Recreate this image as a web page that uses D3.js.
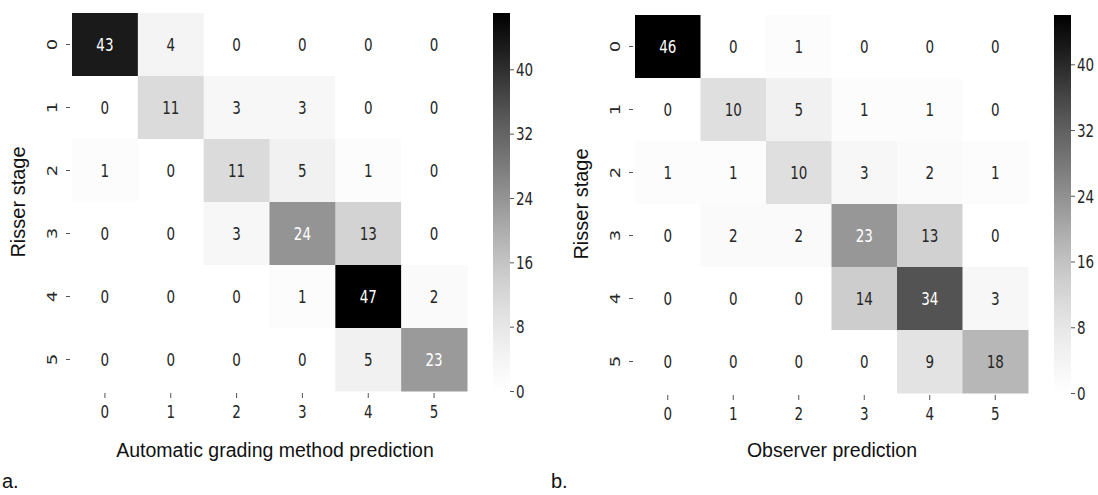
<!DOCTYPE html>
<html>
<head>
<meta charset="utf-8">
<script src="https://cdn.jsdelivr.net/npm/d3@7"></script>
<style>
  body { margin: 0; background: #fff; }
  svg { display: block; }
  .num { font-family: "DejaVu Sans", sans-serif; }
  .lbl { font-family: "Liberation Sans", Arial, sans-serif; fill: #111; }
</style>
</head>
<body>
<svg id="chart" width="1098" height="495"></svg>
<script>
// confusion matrices: rows = Risser stage, columns = prediction
const stages = [0, 1, 2, 3, 4, 5];
const autoMatrix = [
  [43, 4, 0, 0, 0, 0],
  [0, 11, 3, 3, 0, 0],
  [1, 0, 11, 5, 1, 0],
  [0, 0, 3, 24, 13, 0],
  [0, 0, 0, 1, 47, 2],
  [0, 0, 0, 0, 5, 23]
];
const observerMatrix = [
  [46, 0, 1, 0, 0, 0],
  [0, 10, 5, 1, 1, 0],
  [1, 1, 10, 3, 2, 1],
  [0, 2, 2, 23, 13, 0],
  [0, 0, 0, 14, 34, 3],
  [0, 0, 0, 0, 9, 18]
];
const colorbarTicks = [0, 8, 16, 24, 32, 40];
const panelTags = ['a.', 'b.'];
const xTitles = ['Automatic grading method prediction', 'Observer prediction'];
const yTitle = 'Risser stage';

const svg = d3.select('#chart');
const SQ = 0.75; // the original figure was squeezed horizontally

const panels = [
  { m: autoMatrix, x0: 72, x1: 467, y0: 13, y1: 391, cb: 493, tagX: 2, titleX: 275 },
  { m: observerMatrix, x0: 635, x1: 1028, y0: 15, y1: 393, cb: 1054, tagX: 551, titleX: 832 }
];

function luminance(c) {
  const rgb = d3.rgb(c);
  const f = v => { v /= 255; return v <= 0.03928 ? v / 12.92 : Math.pow((v + 0.055) / 1.055, 2.4); };
  return 0.2126 * f(rgb.r) + 0.7152 * f(rgb.g) + 0.0722 * f(rgb.b);
}

panels.forEach((p, i) => {
  const vmax = d3.max(p.m.flat());
  const color = d3.scaleSequential(d3.interpolateGreys).domain([0, vmax]);
  const x = d3.scaleBand().domain(stages).range([p.x0, p.x1]);
  const y = d3.scaleBand().domain(stages).range([p.y0, p.y1]);

  const cells = p.m.flatMap((row, r) => row.map((v, c) => ({ r, c, v })));
  const g = svg.append('g');

  g.selectAll('rect.cell')
    .data(cells)
    .join('rect')
    .attr('class', 'cell')
    .attr('x', d => x(d.c))
    .attr('y', d => y(d.r))
    .attr('width', x.bandwidth() + 0.5)
    .attr('height', y.bandwidth() + 0.5)
    .attr('fill', d => color(d.v));

  g.selectAll('text.ann')
    .data(cells)
    .join('text')
    .attr('class', 'ann num')
    .attr('transform', d => `translate(${x(d.c) + x.bandwidth() / 2},${y(d.r) + y.bandwidth() / 2}) scale(${SQ},1)`)
    .attr('text-anchor', 'middle')
    .attr('dominant-baseline', 'central')
    .attr('font-size', 18)
    .attr('fill', d => luminance(color(d.v)) > 0.408 ? '#262626' : '#ffffff')
    .text(d => d.v);

  // x axis
  const xa = g.append('g')
    .attr('transform', `translate(0,${p.y1 + 2})`)
    .call(d3.axisBottom(x).tickSize(5).tickSizeOuter(0));
  xa.select('.domain').remove();
  xa.selectAll('line').attr('stroke', '#555');
  xa.selectAll('text')
    .attr('class', 'num')
    .attr('y', null).attr('dy', null)
    .attr('transform', `translate(0,19) scale(${SQ},1)`)
    .attr('dominant-baseline', 'central')
    .attr('font-size', 18)
    .attr('fill', '#262626');

  // y axis
  const ya = g.append('g')
    .attr('transform', `translate(${p.x0 - 2},0)`)
    .call(d3.axisLeft(y).tickSize(4).tickSizeOuter(0));
  ya.select('.domain').remove();
  ya.selectAll('line').attr('stroke', '#555');
  ya.selectAll('text')
    .attr('class', 'num')
    .attr('x', null).attr('dy', null)
    .attr('transform', `translate(-18,0) scale(${SQ},1) rotate(-90)`)
    .attr('text-anchor', 'middle')
    .attr('dominant-baseline', 'central')
    .attr('font-size', 18)
    .attr('fill', '#262626');

  // colorbar
  const gradId = 'grad' + i;
  const grad = svg.append('defs').append('linearGradient')
    .attr('id', gradId)
    .attr('x1', 0).attr('y1', 1).attr('x2', 0).attr('y2', 0);
  d3.range(0, 1.001, 0.1).forEach(t => {
    grad.append('stop').attr('offset', t).attr('stop-color', d3.interpolateGreys(t));
  });
  const cbScale = d3.scaleLinear().domain([0, vmax]).range([p.y1, p.y0]);
  g.append('rect')
    .attr('x', p.cb)
    .attr('y', p.y0)
    .attr('width', 17)
    .attr('height', p.y1 - p.y0)
    .attr('fill', `url(#${gradId})`);
  const ca = g.append('g')
    .attr('transform', `translate(${p.cb + 17},0)`)
    .call(d3.axisRight(cbScale).tickValues(colorbarTicks).tickSize(4).tickSizeOuter(0));
  ca.select('.domain').remove();
  ca.selectAll('line').attr('stroke', '#555');
  ca.selectAll('text')
    .attr('class', 'num')
    .attr('x', null).attr('dy', null)
    .attr('transform', `translate(6,0) scale(${SQ},1)`)
    .attr('dominant-baseline', 'central')
    .attr('font-size', 18)
    .attr('fill', '#262626');

  // titles
  svg.append('text')
    .attr('class', 'lbl')
    .attr('x', p.titleX)
    .attr('y', 457)
    .attr('text-anchor', 'middle')
    .attr('font-size', 19.5)
    .text(xTitles[i]);
  svg.append('text')
    .attr('class', 'lbl')
    .attr('transform', `translate(${p.x0 - 47},${(p.y0 + p.y1) / 2}) rotate(-90)`)
    .attr('text-anchor', 'middle')
    .attr('font-size', 20)
    .text(yTitle);
  svg.append('text')
    .attr('class', 'lbl')
    .attr('x', p.tagX)
    .attr('y', 488)
    .attr('font-size', 20)
    .text(panelTags[i]);
});
</script>
</body>
</html>
